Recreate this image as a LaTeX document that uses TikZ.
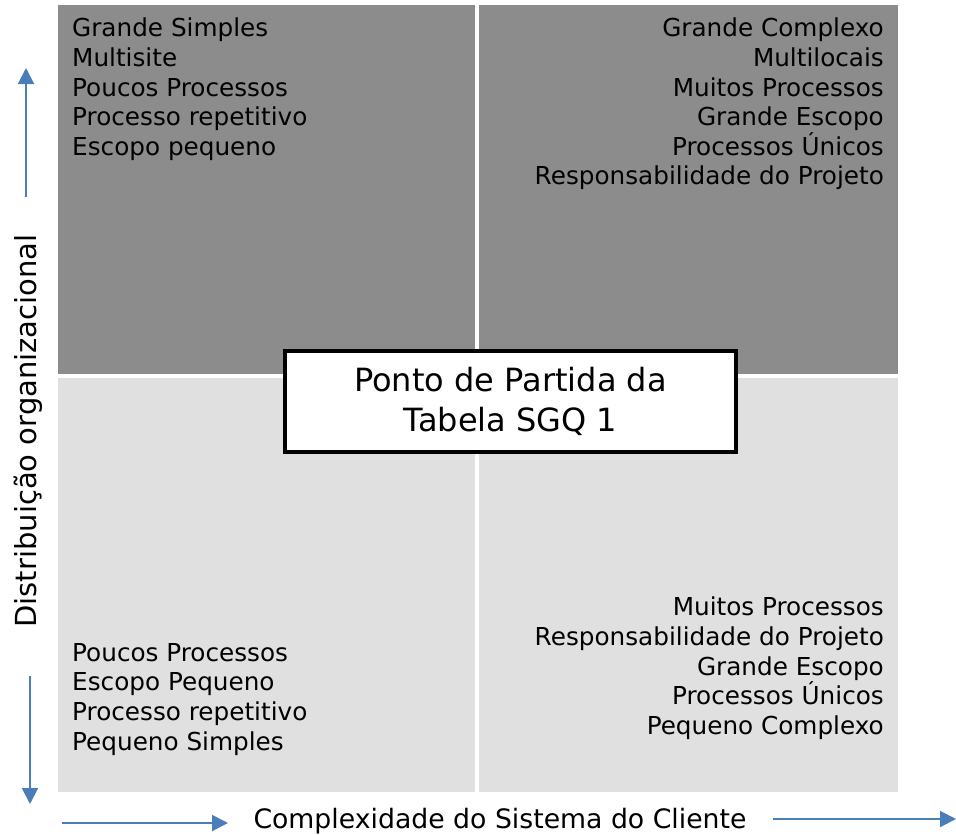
\documentclass[tikz,border=0pt]{standalone}
\usepackage{fontspec}
\setmainfont{DejaVu Sans}
\usetikzlibrary{positioning, arrows.meta}
\definecolor{quaddark}{HTML}{8C8C8C}
\definecolor{quadlight}{HTML}{E0E0E0}
\definecolor{axisblue}{HTML}{4A7EBB}
\tikzset{
x=1pt, y=-1pt, % pixel-like coordinates, y grows downwards
quadtext/.style={inner sep=0pt, font=\fontsize{24.7}{29.6}\selectfont}, % text inside the quadrants
axisarrow/.style={draw=axisblue, line width=2pt, -{Triangle[length=16pt, width=16pt]}}, % blue axis arrows
axislabel/.style={inner sep=0pt, font=\fontsize{26.7}{30}\selectfont},
}
\begin{document}
\begin{tikzpicture}
            \useasboundingbox (0,0) rectangle (956,835);
            % quadrants
            \fill[quaddark] (58,5) rectangle (475,374);
            \fill[quaddark] (479,5) rectangle (898,374);
            \fill[quadlight] (58,378) rectangle (475,792);
            \fill[quadlight] (479,378) rectangle (898,792);
            % texts of the quadrants
            \node[quadtext, anchor=north west, align=left] (topleft) at (72,18)
                {Grande Simples\\Multisite\\Poucos Processos\\Processo repetitivo\\Escopo pequeno};
            \node[quadtext, anchor=north east, align=right] (topright) at (884,18)
                {Grande Complexo\\Multilocais\\Muitos Processos\\Grande Escopo\\Processos Únicos\\Responsabilidade do Projeto};
            \node[quadtext, anchor=north west, align=left] (bottomleft) at (72,643)
                {Poucos Processos\\Escopo Pequeno\\Processo repetitivo\\Pequeno Simples};
            \node[quadtext, anchor=north east, align=right] (bottomright) at (884,597)
                {Muitos Processos\\Responsabilidade do Projeto\\Grande Escopo\\Processos Únicos\\Pequeno Complexo};
            % starting point box
            \node[draw=black, line width=4pt, fill=white, minimum width=451pt, minimum height=101pt,
                align=center, font=\fontsize{32}{40}\selectfont] (start) at (510.5,401.5)
                {Ponto de Partida da\\Tabela SGQ 1};
            % axes
            \node[axislabel, rotate=90, font=\fontsize{29}{30}\selectfont] (vlabel) at (28,431) {Distribuição organizacional};
            \node[axislabel] (hlabel) at (500,821) {Complexidade do Sistema do Cliente};
            \coordinate (upfrom) at (26,197);
            \coordinate (upto) at (26,68);
            \coordinate (downfrom) at (30,676);
            \coordinate (downto) at (30,804);
            \coordinate (leftfrom) at (62,823);
            \coordinate (leftto) at (228,823);
            \coordinate (rightfrom) at (773,819);
            \coordinate (rightto) at (956,819);
            \draw[axisarrow] (upfrom) -- (upto);
            \draw[axisarrow] (downfrom) -- (downto);
            \draw[axisarrow] (leftfrom) -- (leftto);
            \draw[axisarrow] (rightfrom) -- (rightto);
        \end{tikzpicture}
\end{document}
